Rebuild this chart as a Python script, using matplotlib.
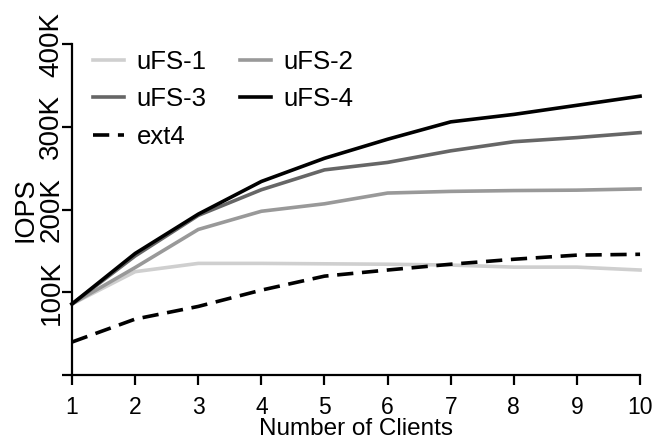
import numpy as np
import matplotlib
matplotlib.use('Agg')
import matplotlib.pyplot as plt

plt.rcParams['font.family'] = ['Liberation Sans', 'DejaVu Sans']

clients = [1, 2, 3, 4, 5, 6, 7, 8, 9, 10]
ufs1 = [86, 125, 135, 135, 134.5, 134, 133, 130.5, 130.5, 127]
ufs2 = [86, 130, 176, 198, 207, 220, 222, 223, 223.5, 225]
ufs3 = [86, 144, 193, 224, 248, 257, 271, 282, 287, 293]
ufs4 = [86, 147, 194.5, 234, 262, 285, 306, 315, 326, 337]
ext4 = [40, 67.7, 83, 102.7, 119.6, 127, 134, 140, 145, 146]
yticks = [100, 200, 300, 400]
ytick_labels = ['100K', '200K', '300K', '400K']

fig = plt.figure(figsize=(6.56, 4.45), dpi=100)
ax = fig.add_axes([0.1098, 0.157, 0.8659, 0.744])

lw = 2.6
l1, = ax.plot(clients, ufs1, color='#cfcfcf', lw=lw, label='uFS-1', clip_on=False)
l2, = ax.plot(clients, ufs2, color='#999999', lw=lw, label='uFS-2', clip_on=False)
l3, = ax.plot(clients, ufs3, color='#666666', lw=lw, label='uFS-3', clip_on=False)
l4, = ax.plot(clients, ufs4, color='black', lw=lw, label='uFS-4', clip_on=False)
l5, = ax.plot(clients, ext4, color='black', lw=lw, ls=(0, (4.5, 2.4)), label='ext4', clip_on=False)

ax.set_xlim(1, 10)
ax.set_ylim(0, 400)
ax.set_xticks(clients)
ax.set_yticks([0] + yticks)
ax.set_yticklabels([''] + ytick_labels, rotation=90, va='center')

for s in ['top', 'right']:
    ax.spines[s].set_visible(False)
for s in ['left', 'bottom']:
    ax.spines[s].set_linewidth(1.6)
ax.tick_params(axis='both', direction='out', length=7.5, width=1.6)
ax.tick_params(axis='x', labelsize=16.5, pad=7.5)
ax.tick_params(axis='y', labelsize=20, pad=-2)

ax.set_xlabel('Number of Clients', fontsize=17.5)
ax.xaxis.set_label_coords(0.5, -0.128, transform=ax.transAxes)
ax.xaxis.label.set_va('top')
ax.set_ylabel('IOPS', fontsize=19.5, labelpad=0)

fig.legend([l1, l3, l5, l2, l4], ['uFS-1', 'uFS-3', 'ext4', 'uFS-2', 'uFS-4'],
           ncol=2, frameon=False, loc='upper left',
           bbox_to_anchor=(93 / 656, 1 - 50 / 445), borderpad=0, borderaxespad=0,
           fontsize=18.5, handlelength=1.2, handletextpad=0.5,
           columnspacing=1.3, labelspacing=0.52)

fig.savefig('out.png', dpi=100)
